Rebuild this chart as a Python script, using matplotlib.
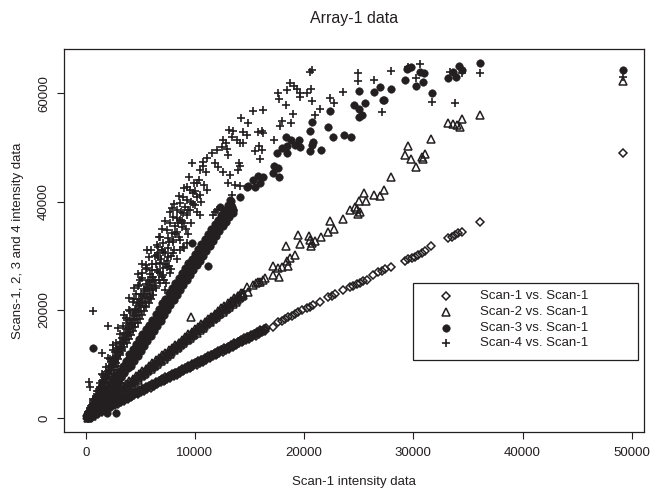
import matplotlib
matplotlib.use("Agg")
import matplotlib.pyplot as plt
from matplotlib.lines import Line2D
from matplotlib.patches import Rectangle

plt.rcParams["font.family"] = ["Liberation Sans", "DejaVu Sans"]

INK = "#231f20"

# ---- Scan-1 vs Scan-1 (diamonds) ----
s1_band_hi_x = [100, 400, 700, 1000, 1300, 1600, 1900, 2200, 2500, 2800,
                3100, 3400, 3700, 4000, 4300, 4600, 4900, 5200, 5500, 5800,
                6100, 6400, 6700, 7000, 7300, 7600, 7900, 8200, 8500, 8800,
                9100, 9400, 9700, 10000, 10300, 10600, 10900, 11200, 11500, 11800,
                12100, 12400, 12700, 13000, 13300, 13600, 13900, 14200, 14500, 14800,
                15100, 15400, 15700, 16000, 16300]
s1_band_hi_y = [380, 620, 980, 1230, 1560, 1830, 2180, 2430, 2760, 3030,
                3380, 3620, 3960, 4230, 4570, 4830, 5170, 5420, 5760, 6030,
                6370, 6620, 6960, 7230, 7560, 7830, 8170, 8420, 8760, 9030,
                9370, 9620, 9960, 10230, 10570, 10820, 11160, 11430, 11770, 12020,
                12370, 12620, 12960, 13230, 13570, 13820, 14160, 14420, 14770, 15020,
                15370, 15620, 15960, 16220, 16570]
s1_band_mid_x = [175, 475, 775, 1075, 1375, 1675, 1975, 2275, 2575, 2875,
                 3175, 3475, 3775, 4075, 4375, 4675, 4975, 5275, 5575, 5875,
                 6175, 6475, 6775, 7075, 7375, 7675, 7975, 8275, 8575, 8875,
                 9175, 9475, 9775, 10075, 10375, 10675, 10975, 11275, 11575, 11875,
                 12175, 12475, 12775, 13075, 13375, 13675, 13975, 14275, 14575, 14875,
                 15175, 15475, 15775, 16075, 16375]
s1_band_mid_y = [230, 520, 840, 1120, 1430, 1720, 2040, 2320, 2630, 2920,
                 3240, 3520, 3830, 4120, 4440, 4720, 5030, 5320, 5640, 5920,
                 6230, 6520, 6840, 7120, 7430, 7720, 8040, 8320, 8630, 8920,
                 9240, 9520, 9830, 10120, 10440, 10720, 11030, 11320, 11640, 11920,
                 12230, 12520, 12840, 13120, 13430, 13720, 14040, 14320, 14630, 14920,
                 15240, 15520, 15830, 16120, 16440]
s1_band_mid2_x = [325, 625, 925, 1225, 1525, 1825, 2125, 2425, 2725, 3025,
                  3325, 3625, 3925, 4225, 4525, 4825, 5125, 5425, 5725, 6025,
                  6325, 6625, 6925, 7225, 7525, 7825, 8125, 8425, 8725, 9025,
                  9325, 9625, 9925, 10225, 10525, 10825, 11125, 11425, 11725, 12025,
                  12325, 12625, 12925, 13225, 13525, 13825, 14125, 14425, 14725, 15025,
                  15325, 15625, 15925, 16225, 16525]
s1_band_mid2_y = [400, 560, 1010, 1150, 1600, 1760, 2210, 2350, 2800, 2960,
                  3410, 3550, 4000, 4160, 4610, 4750, 5200, 5360, 5810, 5950,
                  6400, 6560, 7010, 7150, 7600, 7760, 8210, 8350, 8800, 8960,
                  9410, 9550, 10000, 10160, 10610, 10750, 11200, 11360, 11810, 11950,
                  12400, 12560, 13010, 13150, 13600, 13760, 14210, 14350, 14800, 14960,
                  15410, 15550, 16000, 16160, 16600]
s1_band_lo_x = [250, 550, 850, 1150, 1450, 1750, 2050, 2350, 2650, 2950,
                3250, 3550, 3850, 4150, 4450, 4750, 5050, 5350, 5650, 5950,
                6250, 6550, 6850, 7150, 7450, 7750, 8050, 8350, 8650, 8950,
                9250, 9550, 9850, 10150, 10450, 10750, 11050, 11350, 11650, 11950,
                12250, 12550, 12850, 13150, 13450, 13750, 14050, 14350, 14650, 14950,
                15250, 15550, 15850, 16150, 16450]
s1_band_lo_y = [0, 280, 620, 880, 1210, 1480, 1820, 2080, 2420, 2680,
                3020, 3280, 3610, 3880, 4220, 4480, 4810, 5080, 5420, 5680,
                6010, 6280, 6620, 6880, 7210, 7480, 7820, 8080, 8410, 8680,
                9020, 9280, 9610, 9880, 10220, 10480, 10820, 11080, 11410, 11680,
                12020, 12280, 12610, 12880, 13220, 13480, 13810, 14080, 14420, 14680,
                15010, 15280, 15610, 15880, 16200]
s1_sparse_x = [17180, 17640, 17950, 18250, 18550, 18870, 19170, 19470, 19780, 20240,
               20540, 20850, 21460, 22220, 22530, 22830, 23590, 24200, 24510, 24820,
               25120, 25420, 25730, 26340, 26800, 27110, 27410, 27930, 29240, 29540,
               29850, 30160, 30460, 30770, 31070, 31620, 33210, 33520, 33820, 34120,
               34430, 36110, 49200]
s1_sparse_y = [16910, 17830, 18020, 18270, 18640, 18880, 19250, 19620, 19990, 20300,
               20600, 20920, 21520, 22330, 22580, 22890, 23680, 24180, 24420, 24740,
               25030, 25350, 25530, 26450, 27060, 27250, 27500, 27990, 29090, 29350,
               29590, 29830, 30150, 30570, 30880, 31810, 33230, 33520, 33840, 34150,
               34450, 36180, 49000]

# ---- Scan-2 vs Scan-1 (triangles) ----
s2_band_hi_x = [100, 400, 700, 1000, 1300, 1600, 1900, 2200, 2500, 2800,
                3100, 3400, 3700, 4000, 4300, 4600, 4900, 5200, 5500, 5800,
                6100, 6400, 6700, 7000, 7300, 7600, 7900, 8200, 8500, 8800,
                9100, 9400, 9700, 10000, 10300, 10600, 10900, 11200, 11500, 11800,
                12100, 12400, 12700, 13000, 13300, 13600, 13900, 14200]
s2_band_hi_y = [560, 1100, 1480, 2050, 2450, 3000, 3400, 3950, 4380, 4920,
                5330, 5880, 6290, 6850, 7250, 7800, 8210, 8760, 9170, 9720,
                10130, 10680, 11090, 11640, 12050, 12600, 13010, 13560, 13970, 14520,
                14930, 15480, 15890, 16440, 16850, 17400, 17810, 18360, 18770, 19320,
                19730, 20280, 20690, 21240, 21650, 22200, 22610, 23160]
s2_band_mid_x = [175, 475, 775, 1075, 1375, 1675, 1975, 2275, 2575, 2875,
                 3175, 3475, 3775, 4075, 4375, 4675, 4975, 5275, 5575, 5875,
                 6175, 6475, 6775, 7075, 7375, 7675, 7975, 8275, 8575, 8875,
                 9175, 9475, 9775, 10075, 10375, 10675, 10975, 11275, 11575, 11875,
                 12175, 12475, 12775, 13075, 13375, 13675, 13975, 14275]
s2_band_mid_y = [430, 910, 1390, 1870, 2350, 2830, 3310, 3790, 4270, 4750,
                 5230, 5710, 6190, 6670, 7150, 7630, 8110, 8590, 9070, 9550,
                 10030, 10510, 10990, 11470, 11950, 12430, 12910, 13390, 13870, 14350,
                 14830, 15310, 15790, 16270, 16750, 17230, 17710, 18190, 18670, 19150,
                 19630, 20110, 20590, 21070, 21550, 22030, 22510, 22990]
s2_band_mid2_x = [325, 625, 925, 1225, 1525, 1825, 2125, 2425, 2725, 3025,
                  3325, 3625, 3925, 4225, 4525, 4825, 5125, 5425, 5725, 6025,
                  6325, 6625, 6925, 7225, 7525, 7825, 8125, 8425, 8725, 9025,
                  9325, 9625, 9925, 10225, 10525, 10825, 11125, 11425, 11725, 12025,
                  12325, 12625, 12925, 13225, 13525, 13825, 14125, 14425]
s2_band_mid2_y = [270, 750, 1230, 1710, 2190, 2670, 3150, 3630, 4110, 4590,
                  5070, 5550, 6030, 6510, 6990, 7470, 7950, 8430, 8910, 9390,
                  9870, 10350, 10830, 11310, 11790, 12270, 12750, 13230, 13710, 14190,
                  14670, 15150, 15630, 16110, 16590, 17070, 17550, 18030, 18510, 18990,
                  19470, 19950, 20430, 20910, 21390, 21870, 22350, 22830]
s2_band_lo_x = [250, 550, 850, 1150, 1450, 1750, 2050, 2350, 2650, 2950,
                3250, 3550, 3850, 4150, 4450, 4750, 5050, 5350, 5650, 5950,
                6250, 6550, 6850, 7150, 7450, 7750, 8050, 8350, 8650, 8950,
                9250, 9550, 9850, 10150, 10450, 10750, 11050, 11350, 11650, 11950,
                12250, 12550, 12850, 13150, 13450, 13750, 14050, 14350]
s2_band_lo_y = [50, 450, 1000, 1400, 1950, 2360, 2920, 3320, 3880, 4280,
                4840, 5240, 5800, 6200, 6760, 7160, 7720, 8120, 8680, 9080,
                9640, 10040, 10600, 11000, 11560, 11960, 12520, 12920, 13480, 13880,
                14440, 14840, 15400, 15800, 16360, 16760, 17320, 17720, 18280, 18680,
                19240, 19640, 20200, 20600, 21160, 21560, 22120, 22520]
s2_sparse_x = [14430, 14740, 14890, 15330, 15560, 15790, 15970, 16200, 16430, 17180,
               17180, 17640, 17730, 17950, 18320, 18410, 18500, 18710, 19170, 19470,
               19630, 20450, 20540, 20600, 20700, 21000, 21520, 22220, 22370, 22740,
               23590, 24200, 24660, 24870, 24970, 25030, 25120, 25490, 25670, 26400,
               26950, 27320, 27960, 29240, 29540, 29760, 30250, 30770, 30920, 31070,
               31620, 33210, 33670, 34030, 34280, 34490, 36110, 9630, 49200]
s2_sparse_y = [23070, 24290, 23370, 24610, 24900, 25160, 25160, 25500, 25900, 28170,
               26450, 27690, 26140, 27870, 31860, 29040, 28110, 29540, 30150, 33840,
               32120, 33650, 32910, 31860, 32420, 32790, 33520, 34330, 36420, 34890,
               36790, 38450, 39060, 38580, 37710, 40170, 38140, 41650, 40110, 41220,
               41040, 42140, 44600, 48610, 50270, 47810, 46330, 48290, 47810, 48790,
               51500, 54570, 54330, 54140, 53720, 55250, 56010, 18640, 62360]

# ---- Scan-3 vs Scan-1 (filled circles) ----
s3_band_hi_x = [100, 400, 700, 1000, 1300, 1600, 1900, 2200, 2500, 2800,
                3100, 3400, 3700, 4000, 4300, 4600, 4900, 5200, 5500, 5800,
                6100, 6400, 6700, 7000, 7300, 7600, 7900, 8200, 8500, 8800,
                9100, 9400, 9700, 10000, 10300, 10600, 10900, 11200, 11500, 11800,
                12100, 12400, 12700, 13000, 13300]
s3_band_hi_y = [850, 1600, 2350, 3100, 3850, 4600, 5350, 6100, 6900, 7650,
                8450, 9300, 10200, 11100, 12000, 12900, 13800, 14700, 15600, 16500,
                17400, 18400, 19400, 20400, 21300, 22300, 23300, 24200, 25100, 26000,
                26900, 27800, 28700, 29600, 30500, 31400, 32300, 33200, 34100, 35000,
                35900, 36800, 37700, 38600, 39300]
s3_band_mid_x = [175, 475, 775, 1075, 1375, 1675, 1975, 2275, 2575, 2875,
                 3175, 3475, 3775, 4075, 4375, 4675, 4975, 5275, 5575, 5875,
                 6175, 6475, 6775, 7075, 7375, 7675, 7975, 8275, 8575, 8875,
                 9175, 9475, 9775, 10075, 10375, 10675, 10975, 11275, 11575, 11875,
                 12175, 12475, 12775, 13075, 13375]
s3_band_mid_y = [650, 1400, 2150, 2900, 3650, 4400, 5150, 5900, 6700, 7450,
                 8250, 9100, 10000, 10900, 11800, 12700, 13600, 14500, 15400, 16300,
                 17200, 18200, 19200, 20200, 21100, 22100, 23100, 24000, 24900, 25800,
                 26700, 27600, 28500, 29400, 30300, 31200, 32100, 33000, 33900, 34800,
                 35700, 36600, 37500, 38400, 39100]
s3_band_lo_x = [250, 550, 850, 1150, 1450, 1750, 2050, 2350, 2650, 2950,
                3250, 3550, 3850, 4150, 4450, 4750, 5050, 5350, 5650, 5950,
                6250, 6550, 6850, 7150, 7450, 7750, 8050, 8350, 8650, 8950,
                9250, 9550, 9850, 10150, 10450, 10750, 11050, 11350, 11650, 11950,
                12250, 12550, 12850, 13150, 13450]
s3_band_lo_y = [50, 800, 1550, 2300, 3050, 3800, 4550, 5300, 6100, 6850,
                7650, 8500, 9400, 10300, 11200, 12100, 13000, 13900, 14800, 15700,
                16600, 17600, 18600, 19600, 20500, 21500, 22500, 23400, 24300, 25200,
                26100, 27000, 27900, 28800, 29700, 30600, 31500, 32400, 33300, 34200,
                35100, 36000, 36900, 37800, 38500]
s3_band_top_x = [1900, 2200, 2500, 2800, 3100, 3400, 3700, 4000, 4300, 4600,
                 4900, 5200, 5500, 5800, 6100, 6400, 6700, 7000, 7300, 7600,
                 7900, 8200, 8500, 8800, 9100, 9400, 9700, 10000, 10300, 10600,
                 10900, 11200, 11500, 11800, 12100, 12400, 12700, 13000, 13300]
s3_band_top_y = [5650, 6400, 7200, 7950, 8750, 9600, 10500, 11900, 12800, 13700,
                 14600, 15500, 16400, 17300, 18200, 19200, 20200, 21200, 22100, 23100,
                 24100, 25000, 25900, 26800, 27700, 28600, 29500, 30400, 31300, 32200,
                 33100, 34000, 34900, 35800, 36700, 37600, 38500, 39400, 40100]
s3_band_bot_x = [2050, 2350, 2650, 2950, 3250, 3550, 3850, 4150, 4450, 4750,
                 5050, 5350, 5650, 5950, 6250, 6550, 6850, 7150, 7450, 7750,
                 8050, 8350, 8650, 8950, 9250, 9550, 9850, 10150, 10450, 10750,
                 11050, 11350, 11650, 11950, 12250, 12550, 12850, 13150, 13450]
s3_band_bot_y = [4450, 5200, 6000, 6750, 7550, 8400, 9300, 9730, 10630, 11530,
                 12430, 13330, 14230, 15130, 16030, 17030, 18030, 19030, 19930, 20930,
                 21930, 22830, 23730, 24630, 25530, 26430, 27330, 28230, 29130, 30030,
                 30930, 31830, 32730, 33630, 34530, 35430, 36330, 37230, 37930]
s3_sparse_x = [700, 1980, 2770, 9710, 11230, 12300, 13210, 13520, 14130, 14740,
               14890, 15350, 15810, 16270, 15960, 15500, 17250, 17640, 17730, 17180,
               17550, 17950, 18460, 18340, 18770, 19170, 19560, 19630, 18410, 20540,
               20700, 20790, 21520, 20540, 20700, 22220, 22680, 23660, 24270, 22370,
               24600, 25060, 25580, 25060, 25280, 25060, 26400, 26950, 27250, 27930,
               27320, 29240, 29540, 29760, 29400, 30610, 30980, 30920, 30250, 31690,
               33210, 33670, 33910, 34220, 34430, 36110, 49200]
s3_sparse_y = [12920, 920, 920, 32300, 28110, 39060, 40300, 38450, 40910, 42750,
               42880, 43990, 44730, 44490, 43380, 42750, 46570, 46150, 44490, 45340,
               49030, 49840, 50270, 51990, 51380, 50450, 51380, 50030, 49030, 49400,
               50450, 51060, 49530, 53090, 54750, 53720, 51870, 52300, 51870, 56730,
               57840, 57040, 58260, 55560, 55990, 60480, 60180, 61100, 58760, 60790,
               58760, 62450, 64610, 64910, 64420, 63870, 63800, 62140, 61340, 60000,
               62760, 63980, 62950, 65030, 64300, 65530, 64350]

# ---- Scan-4 vs Scan-1 (plus signs) ----
s4_row_a_x = [100, 300, 500, 700, 900, 1100, 1300, 1500, 1700, 1900,
              2100, 2300, 2500, 2700, 2900, 3100, 3300, 3500, 3700, 3900,
              4100, 4300, 4500, 4700, 4900, 5100, 5300, 5500, 5700, 5900, 6100]
s4_row_a_y = [450, 1400, 2200, 3200, 4000, 5000, 5800, 6800, 7600, 8600,
              9400, 10400, 11200, 12200, 13000, 14000, 14800, 15800, 16600, 17600,
              18400, 19400, 20200, 21200, 22000, 23000, 23800, 24800, 25600, 26600, 27400]
s4_row_b_x = [200, 400, 600, 800, 1000, 1200, 1400, 1600, 1800, 2000,
              2200, 2400, 2600, 2800, 3000, 3200, 3400, 3600, 3800, 4000,
              4200, 4400, 4600, 4800, 5000, 5200, 5400, 5600, 5800, 6000, 6200]
s4_row_b_y = [800, 1700, 2400, 3300, 4100, 4900, 5800, 6500, 7400, 8200,
              9000, 9900, 10600, 11500, 12300, 13100, 14000, 14700, 15600, 16400,
              17200, 18100, 18800, 19700, 20500, 21300, 22200, 22900, 23800, 24600, 25400]
s4_row_c_x = [150, 350, 550, 750, 950, 1150, 1350, 1550, 1750, 1950,
              2150, 2350, 2550, 2750, 2950, 3150, 3350, 3550, 3750, 3950,
              4150, 4350, 4550, 4750, 4950, 5150, 5350, 5550, 5750, 5950, 6150]
s4_row_c_y = [550, 1350, 2000, 2800, 3500, 4300, 4950, 5800, 6450, 7250,
              7900, 8750, 9400, 10200, 10900, 11700, 12350, 13200, 13850, 14650,
              15300, 16150, 16800, 17600, 18300, 19100, 19750, 20600, 21250, 22050, 22700]
s4_row_d_x = [300, 600, 900, 1200, 1500, 1800, 2100, 2400, 2600, 2800, 3000]
s4_row_d_y = [960, 1900, 2900, 3850, 4800, 5750, 6700, 7700, 8300, 9000, 9600]
s4_row_e_x = [250, 450, 650, 850, 1050, 1250, 1450, 1650, 1850, 2050,
              2250, 2450, 2650, 2850, 3050, 3250, 3450, 3650, 3850, 4050,
              4250, 4450, 4650, 4850, 5050, 5250, 5450, 5650, 5850, 6050]
s4_row_e_y = [1080, 1930, 2800, 3650, 4520, 5380, 6230, 7100, 7950, 8820,
              9680, 10530, 11400, 12250, 13120, 13980, 14830, 15700, 16550, 17420,
              18280, 19130, 20000, 20860, 21720, 22580, 23430, 24300, 25150, 26020]
s4_row_f_x = [300, 500, 700, 900, 1100, 1300, 1500, 1700, 1900, 2100,
              2300, 2500, 2700, 2900, 3100, 3300, 3500, 3700, 3900, 4100,
              4300, 4500, 4700, 4900, 5100, 5300, 5500, 5700, 5900, 6100]
s4_row_f_y = [1170, 1950, 2730, 3510, 4290, 5070, 5850, 6630, 7410, 8190,
              8970, 9750, 10530, 11310, 12090, 12870, 13650, 14430, 15210, 15990,
              16770, 17550, 18330, 19110, 19890, 20670, 21450, 22230, 23010, 23790]
s4_row_g_x = [400, 700, 1000, 1300, 1600, 1900, 2200, 2500, 2800, 3100,
              3400, 3700, 4000, 4300, 4600, 4900, 5200, 5500]
s4_row_g_y = [1950, 3550, 4950, 6550, 7950, 9550, 10950, 12550, 13950, 15550,
              16950, 18550, 19950, 21550, 22950, 24550, 25950, 27550]
s4_row_h_x = [1500, 2000, 2500, 3000, 3500, 4000, 4400, 4800, 5200, 5600]
s4_row_h_y = [8100, 11200, 13600, 16700, 19100, 22200, 24000, 26600, 28400, 31000]
s4_cloud_x = [6200, 6400, 6600, 6900, 7000, 7300, 7500, 7800, 8000, 8200,
              8500, 8700, 9000, 9300, 9600, 9900, 6300, 6700, 7100, 7600,
              8100, 8400, 9400, 7900]
s4_cloud_y = [26000, 28500, 27000, 29500, 26000, 28500, 31500, 30000, 33000, 35500,
              33500, 38000, 36000, 37500, 40000, 43500, 24500, 25500, 27800, 28200,
              31000, 37000, 34000, 38800]
s4_cloud2_x = [6400, 6600, 6800, 7000, 7200, 7400, 7600, 7800, 8000, 8200,
               8400, 8600, 8800, 9000, 9200, 9400, 9600, 9800, 10000, 10200,
               10400, 10600, 10800, 11000, 6100, 6300, 6500, 6700, 7000, 7300,
               7700, 8100, 8500, 9000, 9500]
s4_cloud2_y = [24000, 29800, 26800, 31000, 25500, 29000, 32500, 27500, 30500, 34000,
               29500, 33000, 36500, 31500, 35000, 38500, 36000, 39500, 42000, 38000,
               44000, 40000, 43000, 45500, 28500, 30000, 32000, 33500, 35000, 36500,
               38000, 39500, 41000, 42500, 44500]
s4_sparse_x = [7350, 6650, 7110, 7560, 6800, 7420, 6500, 7110, 7720, 6350,
               6800, 7260, 6190, 5890, 700, 2070, 1470, 330, 390, 9710,
               10470, 10160, 9250, 9550, 9860, 10160, 10470, 8940, 9250, 8640,
               9090, 9550, 10010, 10470, 11840, 11690, 12000, 13370, 11080, 8330,
               8020, 8640, 8940, 8480, 8790, 7720, 7420, 7880, 8330, 7560,
               8020, 6800, 7110, 6650, 6960, 7260, 6500, 8640, 8940, 9250,
               20540, 20700, 18710, 19080, 19320, 19630, 17640, 17730, 18410, 20240,
               20610, 20700, 19630, 23590, 24970, 24970, 26400, 27930, 27110, 22370,
               22740, 21460, 21000, 18960, 18770, 17950, 17790, 18340, 16210, 15290,
               14190, 14890, 16120, 16270, 13150, 13520, 14430, 14740, 13370, 13830,
               14130, 14430, 15810, 16120, 15900, 17250, 15500, 15960, 14070, 12550,
               12850, 12450, 12910, 13060, 12000, 11540, 11080, 11840, 12140, 10710,
               10770, 12550, 13210, 13980, 14130, 13060, 13670, 14130, 30610, 30250,
               31690, 33820, 36110, 34430, 33360, 29520, 49200,
               4800, 5200, 5500, 5800, 6000, 4400, 5000, 5600, 4100, 3800]
s4_sparse_y = [24920, 30460, 30750, 29830, 28610, 27990, 27380, 26450, 26770, 25530,
               24920, 23680, 23680, 22450, 19810, 17040, 12000, 6760, 5830, 47070,
               45840, 43380, 42750, 42140, 41530, 40910, 41220, 40910, 40300, 39690,
               39060, 38450, 39370, 37530, 38140, 37530, 38450, 41220, 42140, 38450,
               37220, 36590, 37840, 36000, 35370, 36000, 34760, 34150, 34450, 33230,
               32600, 33520, 32300, 31680, 31070, 30460, 30150, 31070, 31680, 32300,
               63980, 64300, 61840, 61400, 60730, 60000, 60000, 58890, 60610, 60000,
               60730, 58570, 59250, 60290, 63800, 62320, 62450, 64170, 56600, 59070,
               58260, 57040, 55990, 56170, 54570, 54940, 53960, 57840, 56910, 56780,
               55380, 54460, 53090, 52610, 53220, 53090, 52910, 52300, 51870, 51380,
               50880, 50760, 52910, 49530, 50270, 51380, 49400, 47810, 47190, 51380,
               50760, 50140, 49650, 48610, 49530, 48920, 48000, 47190, 46450, 47370,
               46570, 45520, 44910, 45840, 46570, 43380, 43070, 42880, 65350, 62760,
               58450, 58150, 63690, 63690, 63980, 64850, 62990,
               24500, 26800, 28300, 29800, 31000, 22000, 25500, 27800, 19800, 18200]

labels = ["Scan-1 vs. Scan-1", "Scan-2 vs. Scan-1",
          "Scan-3 vs. Scan-1", "Scan-4 vs. Scan-1"]

s1_x = s1_band_hi_x + s1_band_mid_x + s1_band_mid2_x + s1_band_lo_x + s1_sparse_x
s1_y = s1_band_hi_y + s1_band_mid_y + s1_band_mid2_y + s1_band_lo_y + s1_sparse_y
s2_x = s2_band_hi_x + s2_band_mid_x + s2_band_mid2_x + s2_band_lo_x + s2_sparse_x
s2_y = s2_band_hi_y + s2_band_mid_y + s2_band_mid2_y + s2_band_lo_y + s2_sparse_y
s3_x = (s3_band_hi_x + s3_band_mid_x + s3_band_lo_x + s3_band_top_x
        + s3_band_bot_x + s3_sparse_x)
s3_y = (s3_band_hi_y + s3_band_mid_y + s3_band_lo_y + s3_band_top_y
        + s3_band_bot_y + s3_sparse_y)
s4_x = (s4_row_a_x + s4_row_b_x + s4_row_c_x + s4_row_d_x + s4_row_e_x
        + s4_row_f_x + s4_row_g_x + s4_row_h_x + s4_cloud_x + s4_cloud2_x
        + s4_sparse_x)
s4_y = (s4_row_a_y + s4_row_b_y + s4_row_c_y + s4_row_d_y + s4_row_e_y
        + s4_row_f_y + s4_row_g_y + s4_row_h_y + s4_cloud_y + s4_cloud2_y
        + s4_sparse_y)

styles = [
    dict(marker="D", ms=3.9, mfc="none", mec=INK, mew=1.1),
    dict(marker="^", ms=5.2, mfc="none", mec=INK, mew=1.1),
    dict(marker="o", ms=5.5, mfc=INK, mec=INK, mew=0.3),
    dict(marker="+", ms=5.6, mec=INK, mew=1.2),
]

fig = plt.figure(figsize=(6.51, 4.90), dpi=100)
ax = fig.add_axes([64 / 651, 1 - 431.7 / 490, (644.3 - 64) / 651, (431.7 - 49) / 490])

for xs, ys, st in zip([s1_x, s2_x, s3_x, s4_x], [s1_y, s2_y, s3_y, s4_y], styles):
    ax.plot(xs, ys, linestyle="none", **st)

ax.set_xlim(-1987, 51145)
ax.set_ylim(-2474, 68180)
ax.set_xticks([0, 10000, 20000, 30000, 40000, 50000])
ax.set_yticks([0, 20000, 40000, 60000])
ax.tick_params(direction="out", length=5, width=0.8, colors=INK, labelsize=9.5)
ax.tick_params(axis="x", pad=6)
ax.tick_params(axis="y", pad=5)
plt.setp(ax.get_yticklabels(), rotation=90, va="center")
for sp in ax.spines.values():
    sp.set_linewidth(0.9)
    sp.set_color(INK)

ax.set_xlabel("Scan-1 intensity data", fontsize=9.5, color=INK)
ax.xaxis.set_label_coords(0.5, -0.131)
ax.xaxis.label.set_va("center")
ax.set_ylabel("Scans-1, 2, 3 and 4 intensity data", fontsize=9.5, color=INK)
ax.yaxis.set_label_coords(-0.0793, 0.5)
ax.yaxis.label.set_va("center")

fig.text(354 / 651, 1 - 18 / 490, "Array-1 data", ha="center", va="center",
         fontsize=11.5, color=INK)

# legend box drawn by hand (R style)
fig.add_artist(Rectangle((413 / 651, 1 - 360 / 490), 225 / 651, 77 / 490,
                         transform=fig.transFigure, fill=False, ec=INK, lw=0.9))
for row_y, lab, st in zip([296, 312, 327.5, 343], labels, styles):
    fy = 1 - row_y / 490
    fig.add_artist(Line2D([446 / 651], [fy], transform=fig.transFigure,
                          linestyle="none", **st))
    fig.text(480 / 651, fy, lab, ha="left", va="center", fontsize=9.5, color=INK)

fig.savefig("out.png", dpi=100)
